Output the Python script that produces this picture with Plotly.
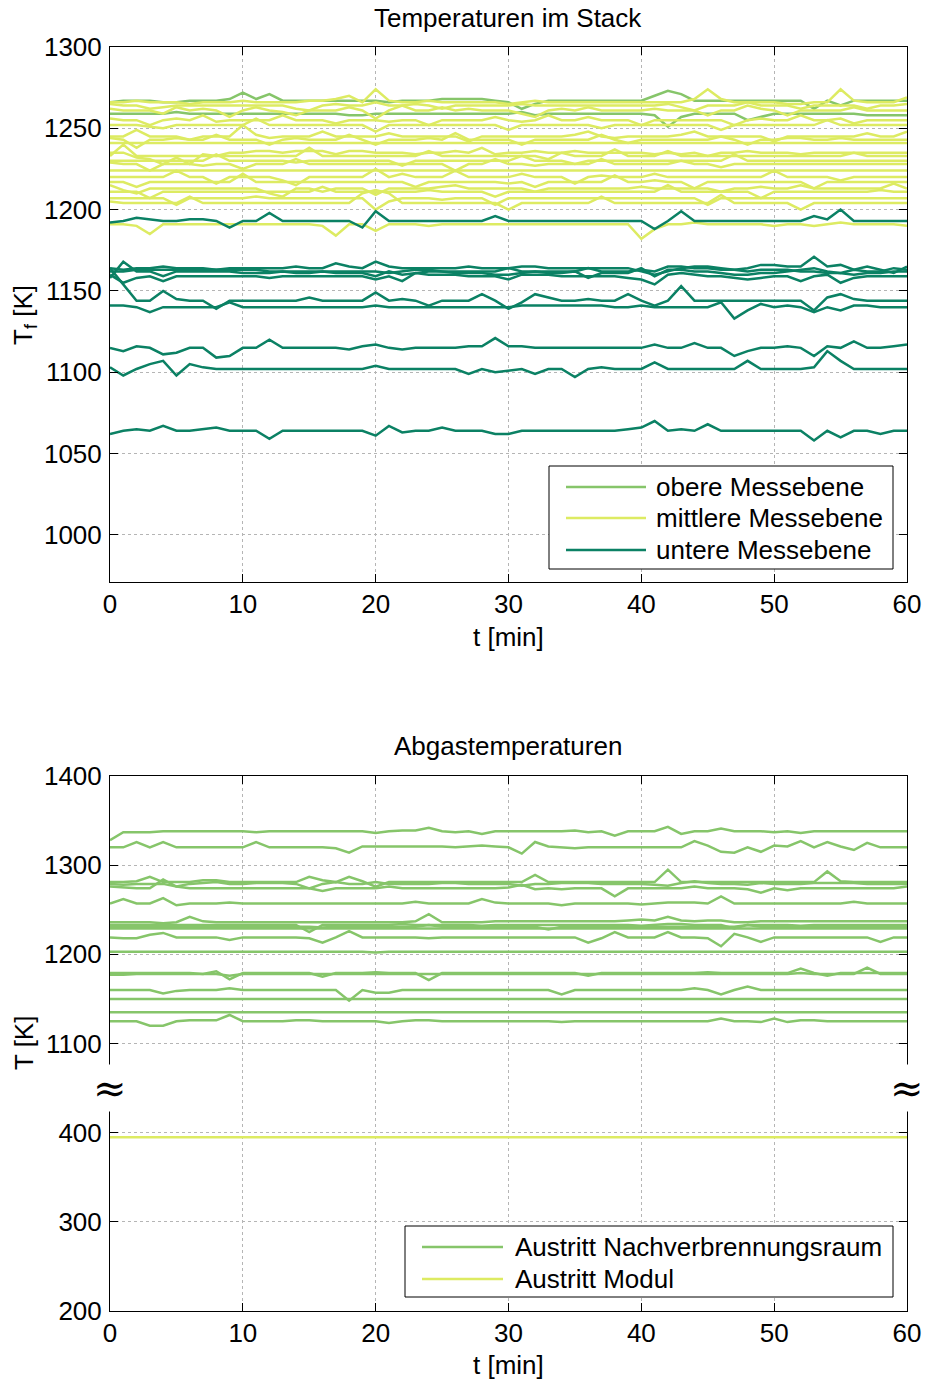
import plotly.graph_objects as go

# ---------------------------------------------------------------------------
# Measured data (time in minutes, temperatures in K)
# ---------------------------------------------------------------------------
t_min = list(range(61))

# Stack temperatures, upper measuring plane
obere = [
    [1266,1267,1267,1267,1266,1266,1267,1267,1267,1268, 1272,1268,1271,1267,1267,1267,1267,1267,1267,1267,
     1267,1266,1267,1267,1267,1268,1268,1268,1268,1267, 1266,1262,1265,1267,1267,1267,1267,1267,1267,1267,
     1267,1270,1273,1271,1267,1267,1267,1267,1267,1267, 1267,1267,1267,1262,1267,1264,1267,1267,1267,1267, 1267],
    [1259,1259,1259,1259,1259,1260,1259,1259,1259,1259, 1259,1259,1259,1259,1259,1259,1259,1259,1258,1258,
     1259,1259,1259,1259,1259,1259,1259,1259,1259,1259, 1259,1260,1258,1259,1259,1259,1259,1259,1259,1259,
     1259,1258,1251,1257,1259,1259,1259,1259,1255,1257, 1259,1259,1259,1259,1259,1259,1259,1258,1258,1258, 1258],
]

# Stack temperatures, middle measuring plane
mittlere = [
    [1266,1266,1267,1266,1266,1266,1265,1266,1266,1266, 1267,1266,1266,1266,1266,1267,1267,1268,1270,1266,
     1274,1267,1266,1266,1267,1266,1266,1266,1266,1266, 1265,1266,1267,1266,1266,1266,1266,1266,1266,1266,
     1266,1266,1266,1266,1268,1274,1268,1266,1266,1266, 1266,1265,1265,1266,1266,1274,1267,1266,1266,1266, 1269],
    [1265,1264,1264,1262,1263,1264,1264,1264,1264,1264, 1264,1264,1264,1264,1262,1261,1264,1265,1264,1264,
     1266,1264,1264,1265,1264,1262,1264,1264,1264,1264, 1264,1265,1264,1264,1264,1264,1264,1264,1264,1264,
     1264,1264,1265,1263,1261,1264,1264,1264,1266,1264, 1264,1264,1262,1264,1264,1264,1264,1262,1264,1264, 1265],
    [1262,1261,1261,1261,1259,1263,1261,1262,1261,1257, 1261,1263,1261,1260,1258,1261,1261,1261,1263,1261,
     1256,1261,1264,1261,1261,1263,1261,1262,1261,1261, 1261,1259,1257,1261,1262,1261,1263,1261,1261,1261,
     1261,1262,1261,1261,1261,1258,1261,1261,1264,1262, 1261,1258,1261,1261,1261,1261,1263,1261,1261,1261, 1261],
    [1256,1255,1255,1252,1255,1256,1255,1258,1254,1255, 1255,1255,1255,1258,1255,1255,1255,1253,1255,1255,
     1255,1254,1255,1255,1252,1255,1255,1255,1255,1257, 1255,1254,1255,1258,1255,1255,1257,1255,1255,1255,
     1252,1255,1255,1255,1255,1255,1255,1252,1255,1256, 1255,1255,1258,1255,1255,1256,1253,1255,1255,1255, 1255],
    [1252,1252,1252,1251,1250,1252,1252,1252,1252,1252, 1252,1256,1252,1252,1252,1252,1252,1252,1252,1252,
     1248,1252,1252,1252,1252,1252,1252,1252,1252,1252, 1249,1252,1252,1252,1252,1252,1252,1250,1252,1252,
     1252,1252,1252,1252,1252,1252,1249,1252,1252,1252, 1252,1252,1252,1252,1255,1252,1252,1252,1252,1252, 1252],
    [1245,1245,1249,1245,1245,1245,1243,1245,1245,1245, 1252,1246,1244,1245,1245,1245,1248,1245,1245,1245,
     1245,1247,1245,1245,1245,1245,1245,1242,1245,1245, 1245,1245,1245,1245,1245,1246,1248,1245,1244,1245,
     1245,1245,1245,1246,1248,1245,1245,1245,1245,1245, 1242,1245,1245,1245,1245,1245,1245,1247,1245,1245, 1248],
    [1244,1243,1238,1243,1243,1244,1243,1243,1246,1243, 1243,1243,1240,1243,1244,1243,1243,1243,1246,1243,
     1240,1243,1243,1243,1244,1243,1247,1243,1243,1243, 1243,1240,1243,1243,1243,1243,1243,1246,1243,1241,
     1243,1243,1243,1243,1243,1243,1245,1243,1240,1243, 1243,1244,1244,1243,1243,1244,1243,1243,1243,1243, 1243],
    [1241,1241,1241,1241,1241,1241,1241,1241,1241,1241, 1241,1241,1241,1241,1241,1241,1241,1241,1241,1241,
     1241,1241,1241,1241,1241,1241,1241,1241,1241,1241, 1241,1241,1241,1241,1241,1241,1241,1241,1241,1241,
     1241,1241,1241,1241,1241,1241,1241,1241,1241,1241, 1241,1241,1241,1241,1241,1241,1241,1241,1241,1241, 1241],
    [1235,1235,1232,1231,1228,1232,1228,1234,1233,1235, 1235,1236,1236,1235,1236,1236,1236,1234,1236,1236,
     1235,1235,1235,1234,1235,1235,1236,1235,1238,1234, 1235,1235,1236,1235,1235,1236,1235,1235,1235,1235,
     1235,1234,1235,1234,1235,1233,1235,1235,1236,1235, 1235,1235,1234,1235,1235,1235,1235,1235,1235,1235, 1235],
    [1233,1240,1233,1233,1233,1233,1233,1233,1233,1233, 1233,1233,1233,1233,1233,1238,1233,1233,1233,1233,
     1233,1233,1233,1233,1236,1233,1233,1233,1233,1233, 1233,1233,1233,1231,1235,1233,1233,1233,1237,1233,
     1233,1233,1236,1233,1233,1233,1233,1233,1233,1233, 1233,1233,1233,1233,1233,1233,1235,1233,1233,1233, 1233],
    [1230,1230,1230,1230,1230,1230,1230,1230,1234,1230, 1230,1230,1230,1230,1229,1230,1230,1230,1230,1230,
     1230,1230,1227,1230,1230,1230,1230,1230,1230,1230, 1230,1233,1230,1230,1230,1228,1230,1230,1230,1230,
     1230,1230,1230,1230,1230,1230,1230,1234,1230,1230, 1230,1230,1230,1230,1230,1230,1230,1230,1230,1230, 1230],
    [1229,1228,1228,1224,1228,1228,1228,1227,1228,1228, 1225,1228,1228,1228,1231,1228,1228,1228,1228,1228,
     1228,1228,1228,1228,1228,1228,1224,1228,1228,1231, 1228,1228,1227,1228,1228,1228,1228,1231,1228,1228,
     1228,1228,1228,1230,1228,1228,1226,1228,1228,1228, 1228,1228,1228,1228,1228,1228,1228,1228,1228,1228, 1228],
    [1224,1224,1224,1224,1224,1224,1224,1224,1224,1224, 1224,1224,1224,1224,1224,1224,1224,1224,1224,1224,
     1224,1224,1224,1224,1224,1224,1224,1224,1224,1224, 1224,1224,1224,1224,1224,1224,1224,1224,1224,1224,
     1224,1224,1224,1224,1224,1224,1224,1224,1224,1224, 1224,1224,1224,1224,1224,1224,1224,1224,1224,1224, 1224],
    [1220,1220,1220,1220,1220,1224,1220,1220,1216,1220, 1220,1220,1220,1218,1215,1220,1220,1220,1220,1220,
     1225,1220,1222,1220,1220,1220,1224,1220,1220,1220, 1220,1222,1220,1220,1220,1216,1220,1221,1220,1220,
     1220,1222,1220,1220,1220,1220,1220,1220,1220,1220, 1224,1220,1220,1220,1220,1218,1220,1220,1220,1220, 1220],
    [1217,1217,1214,1217,1217,1217,1217,1217,1217,1217, 1222,1217,1217,1217,1217,1217,1217,1217,1217,1217,
     1217,1217,1217,1214,1217,1217,1217,1217,1217,1217, 1216,1217,1214,1217,1217,1217,1217,1217,1221,1217,
     1217,1218,1217,1217,1213,1217,1217,1217,1217,1217, 1217,1217,1217,1213,1217,1217,1217,1217,1217,1217, 1217],
    [1215,1212,1210,1213,1213,1213,1213,1213,1213,1213, 1213,1213,1210,1208,1213,1213,1211,1213,1213,1213,
     1209,1213,1213,1213,1213,1214,1215,1213,1213,1213, 1213,1213,1211,1213,1213,1213,1213,1213,1213,1213,
     1214,1213,1213,1213,1213,1213,1211,1213,1213,1214, 1213,1213,1215,1213,1213,1213,1213,1213,1213,1216, 1213],
    [1211,1211,1211,1207,1211,1211,1211,1211,1211,1211, 1211,1211,1211,1211,1211,1211,1214,1211,1211,1211,
     1211,1211,1211,1211,1212,1211,1211,1211,1211,1208, 1211,1211,1211,1211,1211,1211,1211,1211,1211,1211,
     1211,1211,1215,1211,1211,1211,1211,1211,1211,1207, 1211,1211,1211,1211,1211,1211,1211,1211,1212,1211, 1211],
    [1207,1207,1207,1207,1207,1203,1207,1207,1207,1207, 1207,1208,1207,1207,1207,1207,1207,1207,1207,1207,
     1200,1205,1207,1207,1207,1206,1207,1207,1207,1203, 1207,1207,1207,1207,1207,1207,1207,1207,1207,1207,
     1207,1207,1207,1207,1207,1203,1207,1207,1207,1207, 1207,1207,1207,1207,1207,1207,1207,1207,1207,1207, 1207],
    [1205,1204,1204,1204,1204,1204,1208,1204,1204,1204, 1204,1204,1204,1204,1204,1204,1204,1204,1204,1210,
     1212,1210,1204,1204,1204,1204,1204,1204,1204,1204, 1200,1204,1204,1204,1204,1204,1204,1208,1204,1204,
     1204,1204,1204,1204,1204,1204,1209,1204,1204,1204, 1204,1204,1200,1204,1204,1204,1204,1204,1204,1204, 1204],
    [1191,1191,1190,1185,1191,1191,1191,1191,1191,1191, 1191,1191,1191,1191,1191,1191,1190,1184,1191,1191,
     1187,1191,1191,1191,1190,1191,1191,1191,1191,1191, 1191,1191,1191,1191,1191,1191,1191,1191,1191,1191,
     1182,1188,1191,1191,1192,1191,1191,1191,1191,1191, 1190,1191,1191,1190,1191,1192,1191,1191,1191,1191, 1190],
]

# Stack temperatures, lower measuring plane
untere = [
    [1192,1193,1195,1194,1193,1193,1194,1194,1193,1189, 1193,1193,1198,1193,1193,1193,1193,1193,1193,1189,
     1199,1193,1193,1193,1193,1193,1193,1193,1193,1196, 1193,1193,1193,1193,1193,1193,1193,1193,1193,1193,
     1193,1188,1193,1199,1193,1193,1193,1193,1193,1193, 1193,1193,1193,1196,1194,1200,1193,1193,1193,1193, 1193],
    [1164,1163,1164,1164,1165,1164,1164,1164,1163,1164, 1164,1164,1164,1164,1165,1164,1164,1167,1165,1164,
     1168,1165,1164,1164,1164,1164,1164,1165,1164,1164, 1164,1165,1165,1164,1164,1164,1164,1164,1164,1164,
     1162,1160,1162,1164,1165,1165,1164,1163,1164,1166, 1166,1165,1165,1171,1165,1166,1163,1165,1163,1161, 1165],
    [1158,1168,1162,1162,1159,1162,1162,1162,1162,1162, 1161,1161,1161,1162,1161,1161,1162,1161,1161,1161,
     1159,1162,1160,1161,1162,1162,1161,1161,1161,1160, 1160,1161,1162,1161,1161,1162,1158,1161,1161,1161,
     1164,1159,1163,1163,1162,1162,1161,1160,1160,1161, 1161,1162,1163,1164,1162,1161,1160,1161,1161,1162, 1162],
    [1160,1155,1158,1159,1156,1159,1159,1159,1159,1159, 1159,1159,1158,1159,1159,1159,1159,1159,1159,1159,
     1157,1159,1156,1161,1160,1160,1160,1159,1159,1159, 1157,1160,1160,1160,1159,1159,1159,1159,1159,1158,
     1157,1154,1160,1161,1160,1159,1159,1158,1157,1158, 1159,1159,1156,1159,1160,1155,1158,1159,1159,1159, 1159],
    [1162,1162,1163,1163,1163,1163,1163,1163,1163,1163, 1163,1163,1162,1162,1162,1162,1162,1162,1162,1162,
     1162,1161,1162,1163,1163,1162,1162,1162,1162,1162, 1164,1162,1162,1162,1162,1162,1164,1162,1162,1162,
     1163,1162,1165,1165,1164,1164,1163,1163,1162,1163, 1163,1163,1162,1162,1161,1161,1163,1162,1162,1164, 1163],
    [1164,1154,1144,1144,1150,1145,1144,1144,1139,1144, 1144,1144,1144,1144,1144,1146,1144,1144,1144,1144,
     1149,1144,1145,1144,1141,1144,1144,1144,1148,1144, 1139,1143,1148,1146,1144,1144,1145,1144,1144,1148,
     1144,1141,1144,1153,1144,1144,1144,1144,1144,1144, 1144,1144,1144,1138,1146,1148,1145,1144,1144,1144, 1144],
    [1141,1141,1140,1137,1140,1140,1140,1140,1140,1143, 1140,1140,1140,1140,1140,1140,1140,1140,1140,1140,
     1141,1140,1140,1140,1140,1140,1140,1140,1140,1140, 1140,1141,1141,1141,1141,1141,1141,1141,1140,1140,
     1141,1140,1140,1140,1140,1140,1143,1133,1138,1142, 1140,1141,1140,1137,1140,1138,1141,1141,1140,1140, 1140],
    [1115,1113,1116,1115,1111,1112,1115,1115,1109,1110, 1115,1115,1120,1115,1115,1115,1115,1115,1114,1116,
     1117,1115,1114,1115,1115,1115,1115,1116,1116,1121, 1116,1116,1115,1115,1115,1115,1115,1115,1115,1115,
     1115,1117,1115,1115,1118,1115,1115,1110,1113,1115, 1115,1116,1115,1110,1116,1115,1119,1115,1115,1116, 1117],
    [1103,1098,1102,1105,1107,1098,1105,1103,1102,1102, 1102,1102,1102,1102,1102,1102,1102,1102,1102,1102,
     1104,1102,1102,1102,1102,1102,1102,1099,1102,1100, 1101,1102,1099,1102,1102,1097,1102,1103,1102,1102,
     1102,1106,1102,1102,1102,1102,1102,1102,1107,1102, 1102,1102,1102,1103,1113,1107,1102,1102,1102,1102, 1102],
    [1062,1064,1065,1064,1067,1064,1064,1065,1066,1064, 1064,1064,1059,1064,1064,1064,1064,1064,1064,1064,
     1061,1067,1063,1064,1064,1066,1064,1064,1064,1062, 1062,1064,1064,1064,1064,1064,1064,1064,1064,1065,
     1066,1070,1064,1065,1064,1068,1064,1064,1064,1064, 1064,1064,1064,1058,1064,1060,1064,1064,1062,1064, 1064],
]

# Exhaust gas temperatures, afterburner outlet
austritt_nvr = [
    [1328,1337,1337,1337,1338,1338,1338,1338,1338,1338, 1338,1337,1338,1338,1338,1338,1338,1338,1338,1338,
     1336,1338,1339,1339,1342,1338,1337,1338,1335,1338, 1338,1338,1338,1338,1338,1339,1337,1338,1333,1338,
     1338,1338,1343,1335,1338,1338,1341,1338,1338,1338, 1337,1338,1336,1338,1338,1338,1338,1338,1338,1338, 1338],
    [1320,1320,1326,1320,1326,1320,1320,1320,1320,1320, 1320,1326,1320,1320,1320,1320,1320,1319,1314,1321,
     1321,1321,1321,1321,1321,1321,1320,1321,1322,1321, 1320,1313,1326,1321,1320,1319,1320,1320,1320,1320,
     1320,1320,1320,1320,1327,1322,1315,1314,1320,1315, 1322,1321,1327,1320,1326,1321,1317,1325,1320,1320, 1320],
    [1281,1281,1282,1287,1281,1281,1281,1283,1283,1281, 1281,1281,1281,1281,1281,1287,1283,1281,1287,1282,
     1276,1281,1281,1281,1281,1281,1281,1281,1281,1281, 1281,1281,1289,1281,1281,1281,1281,1281,1281,1281,
     1281,1281,1295,1281,1281,1281,1281,1281,1281,1281, 1281,1281,1281,1281,1293,1282,1281,1281,1281,1281, 1281],
    [1279,1278,1279,1279,1279,1276,1279,1280,1281,1279, 1279,1280,1280,1280,1279,1274,1279,1281,1279,1279,
     1281,1279,1279,1279,1279,1280,1280,1279,1279,1279, 1279,1277,1279,1279,1280,1280,1280,1279,1279,1279,
     1279,1278,1277,1280,1282,1280,1279,1279,1278,1280, 1279,1279,1279,1280,1280,1280,1280,1279,1279,1279, 1279],
    [1276,1275,1274,1274,1284,1276,1274,1274,1274,1274, 1274,1274,1274,1274,1274,1274,1271,1274,1274,1274,
     1274,1276,1274,1274,1274,1274,1274,1274,1274,1274, 1275,1278,1273,1274,1273,1274,1274,1274,1265,1274,
     1274,1274,1274,1274,1276,1274,1274,1274,1273,1269, 1274,1272,1274,1274,1274,1274,1274,1274,1274,1274, 1276],
    [1257,1262,1257,1257,1263,1255,1257,1257,1257,1258, 1257,1257,1257,1257,1257,1257,1257,1257,1257,1257,
     1257,1257,1257,1259,1257,1257,1257,1257,1262,1258, 1257,1257,1257,1257,1255,1257,1257,1257,1257,1257,
     1256,1257,1258,1258,1258,1257,1265,1257,1257,1257, 1257,1257,1257,1257,1257,1257,1259,1257,1257,1257, 1257],
    [1236,1236,1236,1236,1235,1236,1242,1237,1236,1236, 1236,1236,1236,1236,1236,1236,1236,1236,1236,1236,
     1236,1236,1236,1237,1245,1236,1236,1236,1236,1237, 1237,1237,1237,1237,1237,1237,1237,1237,1237,1238,
     1239,1238,1242,1238,1237,1238,1238,1236,1236,1237, 1237,1237,1237,1237,1237,1237,1237,1237,1237,1237, 1237],
    [1233,1233,1233,1233,1233,1233,1233,1233,1233,1233, 1233,1233,1233,1233,1233,1225,1233,1233,1233,1233,
     1233,1233,1234,1233,1233,1233,1233,1233,1232,1233, 1233,1233,1233,1233,1233,1233,1233,1233,1233,1233,
     1232,1233,1234,1234,1233,1233,1233,1229,1233,1233, 1233,1233,1232,1233,1233,1233,1233,1233,1233,1233, 1233],
    [1231,1231,1231,1231,1231,1231,1231,1231,1231,1231, 1231,1231,1231,1231,1231,1231,1230,1231,1231,1231,
     1231,1231,1231,1231,1233,1231,1231,1231,1231,1231, 1231,1231,1231,1228,1231,1231,1231,1231,1231,1231,
     1231,1231,1231,1231,1231,1231,1231,1231,1233,1231, 1231,1231,1231,1231,1231,1231,1231,1231,1231,1231, 1231],
    [1229,1229,1229,1229,1229,1229,1229,1229,1229,1229, 1229,1229,1229,1229,1229,1229,1229,1229,1229,1229,
     1229,1229,1229,1229,1229,1229,1229,1229,1229,1229, 1229,1229,1229,1229,1229,1229,1229,1229,1229,1229,
     1229,1229,1229,1229,1229,1229,1229,1229,1229,1229, 1229,1229,1229,1229,1229,1229,1229,1229,1229,1229, 1229],
    [1219,1218,1218,1222,1224,1219,1219,1219,1219,1216, 1219,1219,1219,1219,1219,1218,1213,1219,1226,1219,
     1219,1219,1219,1219,1218,1219,1219,1219,1219,1219, 1219,1219,1219,1219,1219,1219,1213,1218,1225,1219,
     1219,1219,1225,1219,1219,1218,1209,1223,1219,1214, 1219,1219,1219,1219,1219,1219,1219,1219,1214,1219, 1219],
    [1203,1203,1203,1203,1203,1203,1203,1203,1203,1203, 1203,1203,1203,1203,1203,1203,1203,1203,1203,1203,
     1202,1203,1203,1203,1203,1203,1203,1203,1203,1203, 1203,1203,1203,1203,1203,1203,1203,1203,1203,1203,
     1203,1203,1203,1203,1203,1203,1203,1203,1203,1203, 1203,1203,1203,1203,1203,1203,1203,1203,1203,1203, 1203],
    [1179,1179,1179,1179,1179,1179,1179,1178,1181,1172, 1179,1179,1179,1179,1179,1179,1175,1179,1179,1179,
     1180,1179,1179,1179,1171,1179,1179,1179,1179,1179, 1179,1179,1179,1179,1179,1179,1176,1179,1179,1179,
     1179,1179,1179,1179,1179,1180,1179,1179,1179,1179, 1179,1179,1184,1179,1176,1179,1179,1179,1179,1179, 1179],
    [1177,1177,1178,1178,1178,1178,1178,1178,1178,1176, 1178,1178,1178,1178,1178,1178,1178,1178,1178,1178,
     1178,1178,1178,1178,1178,1178,1178,1178,1178,1178, 1178,1178,1178,1178,1178,1178,1178,1178,1178,1178,
     1178,1178,1178,1178,1178,1178,1178,1178,1178,1178, 1178,1178,1179,1178,1178,1178,1178,1185,1178,1178, 1178],
    [1160,1160,1160,1160,1156,1159,1160,1160,1160,1162, 1160,1160,1160,1160,1160,1160,1160,1160,1148,1160,
     1157,1157,1160,1160,1160,1160,1160,1160,1160,1160, 1160,1160,1160,1160,1155,1160,1160,1160,1160,1160,
     1160,1160,1160,1160,1162,1160,1155,1160,1164,1160, 1160,1160,1160,1160,1160,1160,1160,1160,1160,1160, 1160],
    [1150,1150,1150,1150,1150,1150,1150,1150,1150,1150, 1150,1150,1150,1150,1150,1150,1150,1150,1150,1150,
     1150,1150,1150,1150,1150,1150,1150,1150,1150,1150, 1150,1150,1150,1150,1150,1150,1150,1150,1150,1150,
     1150,1150,1150,1150,1150,1150,1150,1150,1150,1150, 1150,1150,1150,1150,1150,1150,1150,1150,1150,1150, 1150],
    [1135,1135,1135,1135,1135,1135,1135,1135,1135,1135, 1135,1135,1135,1135,1135,1135,1135,1135,1135,1135,
     1135,1135,1135,1135,1135,1135,1135,1135,1135,1135, 1135,1135,1135,1135,1135,1135,1135,1135,1135,1135,
     1135,1135,1135,1135,1135,1135,1135,1135,1135,1135, 1135,1135,1135,1135,1135,1135,1135,1135,1135,1135, 1135],
    [1125,1125,1125,1120,1120,1125,1126,1126,1126,1132, 1125,1125,1125,1125,1126,1126,1125,1125,1125,1125,
     1125,1123,1125,1126,1126,1125,1125,1125,1125,1125, 1125,1125,1125,1125,1124,1125,1125,1125,1125,1125,
     1125,1125,1125,1125,1125,1125,1128,1125,1125,1124, 1128,1124,1126,1126,1125,1125,1125,1125,1125,1125, 1125],
]

# Exhaust gas temperature, module outlet
austritt_modul = [395,395,395,395,395,395,395,395,395,395, 395,395,395,395,395,395,395,395,395,395,
                  395,395,395,395,395,395,395,395,395,395, 395,395,395,395,395,395,395,395,395,395,
                  395,395,395,395,395,395,395,395,395,395, 395,395,395,395,395,395,395,395,395,395, 395]

top_yticks = [1000, 1050, 1100, 1150, 1200, 1250, 1300]
x_ticks = [0, 10, 20, 30, 40, 50, 60]
# Broken exhaust axis: the upper band (1100..1400 K) is shifted down by this offset
BREAK_OFFSET = 600
bottom_ytick_values = [200, 300, 400, 1100, 1200, 1300, 1400]

# ---------------------------------------------------------------------------
# Styling
# ---------------------------------------------------------------------------
W, H = 926, 1382
C_OBERE = "#86C56A"
C_MITTLERE = "#DDEB62"
C_UNTERE = "#0B8164"
FONT = "Liberation Sans, Arial, sans-serif"
FS = 26
LW = 2.5


def px(x):
    return x / W


def py(y):
    return 1 - y / H


fig = go.Figure()

for series in obere:
    fig.add_trace(go.Scatter(x=t_min[:len(series)], y=series, mode="lines",
                             line=dict(color=C_OBERE, width=LW), xaxis="x", yaxis="y"))
for series in mittlere:
    fig.add_trace(go.Scatter(x=t_min[:len(series)], y=series, mode="lines",
                             line=dict(color=C_MITTLERE, width=LW), xaxis="x", yaxis="y"))
for series in untere:
    fig.add_trace(go.Scatter(x=t_min[:len(series)], y=series, mode="lines",
                             line=dict(color=C_UNTERE, width=LW), xaxis="x", yaxis="y"))

for series in austritt_nvr:
    fig.add_trace(go.Scatter(x=t_min[:len(series)], y=[v - BREAK_OFFSET for v in series], mode="lines",
                             line=dict(color=C_OBERE, width=LW), xaxis="x2", yaxis="y2"))
fig.add_trace(go.Scatter(x=t_min[:len(austritt_modul)], y=austritt_modul, mode="lines",
                         line=dict(color=C_MITTLERE, width=LW), xaxis="x2", yaxis="y2"))

axis_common = dict(
    showline=True, linecolor="black", linewidth=1, mirror="ticks",
    ticks="inside", ticklen=8, tickwidth=1, tickcolor="black",
    showgrid=True, gridcolor="#b5b5b5", gridwidth=1, griddash="dot",
    zeroline=False, tickfont=dict(family=FONT, size=FS, color="black"),
    automargin=False,
)

top_dom = [py(582), py(47)]
bot_dom = [py(1311), py(776)]
x_dom = [px(110), px(907)]

fig.update_layout(
    width=W, height=H,
    margin=dict(l=0, r=0, t=0, b=0),
    paper_bgcolor="white", plot_bgcolor="white",
    showlegend=False,
    font=dict(family=FONT, size=FS, color="black"),
    xaxis=dict(axis_common, domain=x_dom, anchor="y", range=[0, 60], tickvals=x_ticks,
               ticklabelstandoff=-1),
    yaxis=dict(axis_common, domain=top_dom, anchor="x", range=[971, 1300], tickvals=top_yticks,
               ticklabelstandoff=2),
    xaxis2=dict(axis_common, domain=x_dom, anchor="y2", range=[0, 60], tickvals=x_ticks,
                ticklabelstandoff=-1),
    yaxis2=dict(axis_common, domain=bot_dom, anchor="x2", range=[200, 800],
                tickvals=[v if v < 1000 else v - BREAK_OFFSET for v in bottom_ytick_values],
                ticktext=[str(v) for v in bottom_ytick_values], ticklabelstandoff=2),
)

ann = []
# titles and axis labels
ann.append(dict(text="Temperaturen im Stack", x=px(508), y=py(18), xref="paper", yref="paper",
                showarrow=False, xanchor="center", yanchor="middle"))
ann.append(dict(text="Abgastemperaturen", x=px(508), y=py(746), xref="paper", yref="paper",
                showarrow=False, xanchor="center", yanchor="middle"))
ann.append(dict(text="t [min]", x=px(508), y=py(637), xref="paper", yref="paper",
                showarrow=False, xanchor="center", yanchor="middle"))
ann.append(dict(text="t [min]", x=px(508), y=py(1365), xref="paper", yref="paper",
                showarrow=False, xanchor="center", yanchor="middle"))
ann.append(dict(text="T<sub>f</sub> [K]", x=px(24), y=py(315), xref="paper", yref="paper",
                showarrow=False, xanchor="center", yanchor="middle", textangle=-90))
ann.append(dict(text="T [K]", x=px(24), y=py(1043), xref="paper", yref="paper",
                showarrow=False, xanchor="center", yanchor="middle", textangle=-90))

# axis break markers
for xb in (110, 907):
    ann.append(dict(text="≈", x=px(xb), y=450, xref="paper", yref="y2", showarrow=False,
                    xanchor="center", yanchor="middle", bgcolor="white", borderpad=0,
                    font=dict(family="DejaVu Serif, serif", size=40, color="black")))

shapes = []
# legend boxes (drawn as shapes so the sample lines have the long MATLAB style)
legends = [
    ((549, 466, 893, 569), 566, 646, 654,
     [(487, C_OBERE, "obere Messebene"), (518, C_MITTLERE, "mittlere Messebene"),
      (550, C_UNTERE, "untere Messebene")]),
    ((405, 1226, 893, 1297), 422, 503, 513,
     [(1247, C_OBERE, "Austritt Nachverbrennungsraum"), (1279, C_MITTLERE, "Austritt Modul")]),
]
for (x0, y0, x1, y1), lx0, lx1, tx, items in legends:
    shapes.append(dict(type="rect", xref="paper", yref="paper", x0=px(x0), y0=py(y1),
                       x1=px(x1), y1=py(y0), line=dict(color="black", width=1),
                       fillcolor="white", layer="above"))
    for yy, col, label in items:
        shapes.append(dict(type="line", xref="paper", yref="paper", x0=px(lx0), x1=px(lx1),
                           y0=py(yy), y1=py(yy), line=dict(color=col, width=LW), layer="above"))
        ann.append(dict(text=label, x=px(tx), y=py(yy), xref="paper", yref="paper",
                        showarrow=False, xanchor="left", yanchor="middle"))

fig.update_layout(annotations=ann, shapes=shapes)

fig.write_html("out.html")
